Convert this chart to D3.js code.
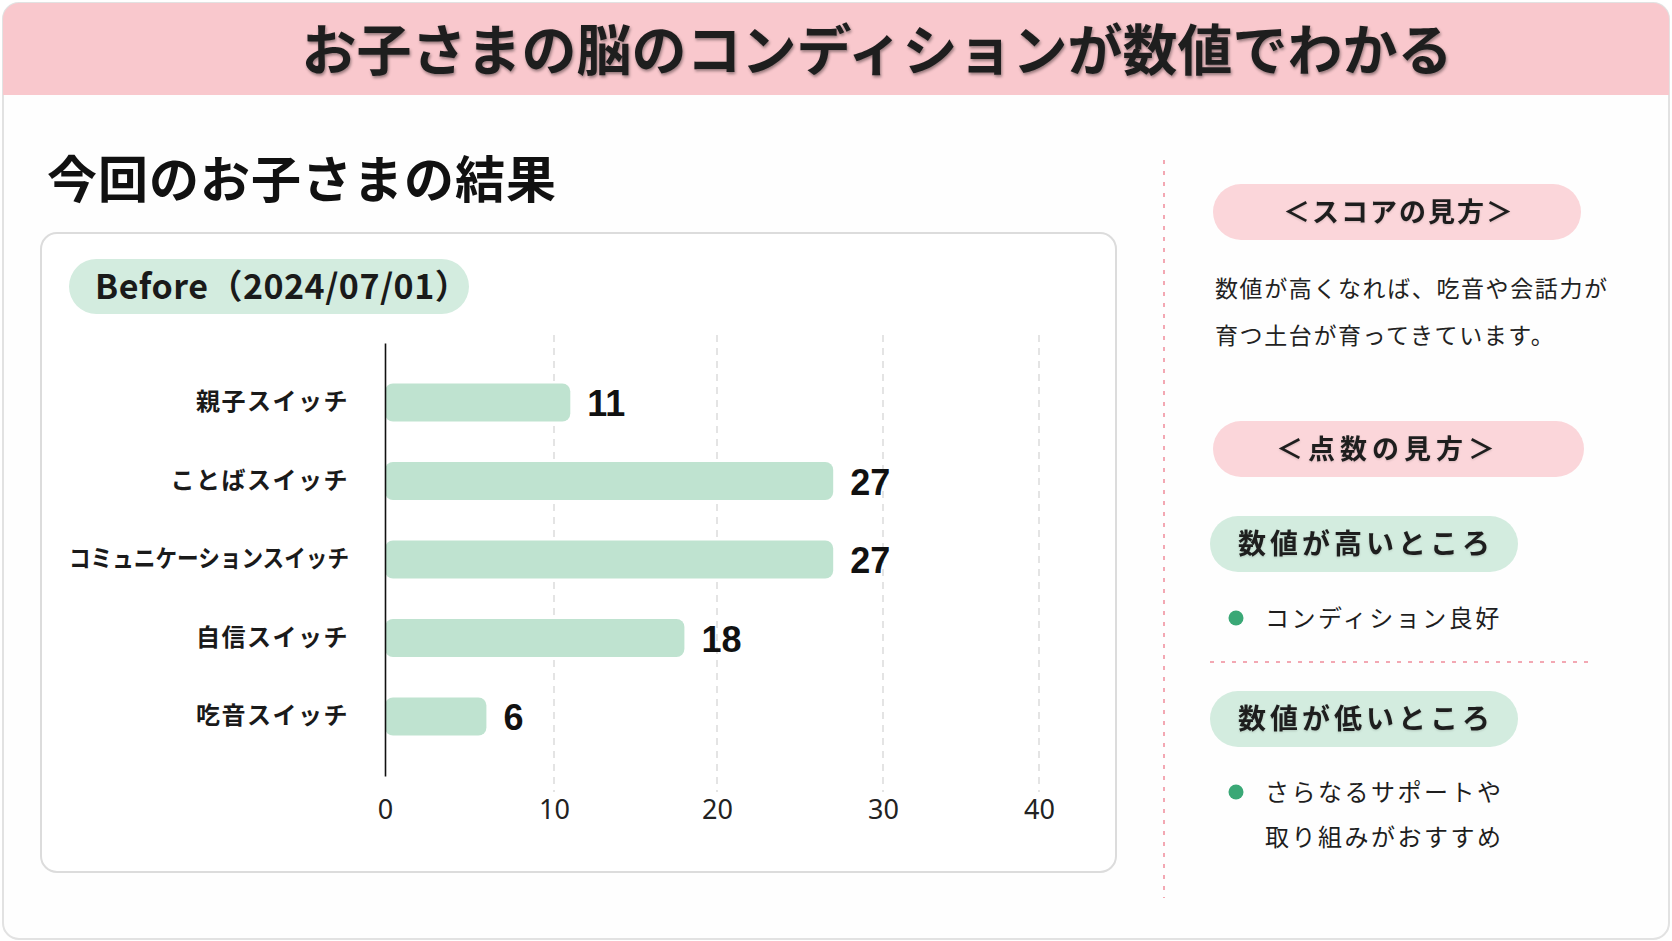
<!DOCTYPE html>
<html lang="ja">
<head>
<meta charset="utf-8">
<script src="https://cdn.jsdelivr.net/npm/d3@7"></script>
<style>
  html, body { margin: 0; padding: 0; background: #ffffff; }
  svg { display: block; }
  text { font-family: "Noto Sans CJK JP", "Noto Sans", sans-serif; }
</style>
</head>
<body>
<svg id="chart" width="1672" height="941"></svg>
<script>
// ---- data ----
const categories = ["親子スイッチ", "ことばスイッチ", "コミュニケーションスイッチ", "自信スイッチ", "吃音スイッチ"];
const values = [11, 27, 27, 18, 6];
const xTicks = [0, 10, 20, 30, 40];
const titleText = "お子さまの脳のコンディションが数値でわかる";
const sectionTitle = "今回のお子さまの結果";
const periodLabel = "Before（2024/07/01）";
const scoreHeading = "＜スコアの見方＞";
const scoreLines = ["数値が高くなれば、吃音や会話力が", "育つ土台が育ってきています。"];
const pointHeading = "＜点数の見方＞";
const highHeading = "数値が高いところ";
const highItems = ["コンディション良好"];
const lowHeading = "数値が低いところ";
const lowItems = ["さらなるサポートや", "取り組みがおすすめ"];

const svg = d3.select("#chart");
const defs = svg.append("defs");
defs.append("clipPath").attr("id", "cardClip")
  .append("rect").attr("x", 3).attr("y", 3).attr("width", 1666).attr("height", 936).attr("rx", 16);

// ---- outer card ----
svg.append("rect").attr("x", 3).attr("y", 3).attr("width", 1666).attr("height", 936).attr("rx", 16)
  .attr("fill", "#fefefe").attr("stroke", "#e2e2e2").attr("stroke-width", 2);
svg.append("g").attr("clip-path", "url(#cardClip)")
  .append("rect").attr("x", 0).attr("y", 0).attr("width", 1672).attr("height", 95).attr("fill", "#f9c8cd");

svg.append("text").attr("x", 877).attr("y", 70).attr("text-anchor", "middle")
  .attr("font-size", 55).attr("font-weight", 700).attr("fill", "#1e1e1e")
  .style("filter", "drop-shadow(1px 2px 1.5px rgba(0,0,0,0.4))")
  .text(titleText);

svg.append("text").attr("x", 47).attr("y", 198)
  .attr("font-size", 50).attr("font-weight", 700).attr("fill", "#111").attr("letter-spacing", 1)
  .text(sectionTitle);

// ---- chart panel ----
svg.append("rect").attr("x", 41).attr("y", 233).attr("width", 1075).attr("height", 639).attr("rx", 16)
  .attr("fill", "#ffffff").attr("stroke", "#dcdcdc").attr("stroke-width", 2);

svg.append("rect").attr("x", 69).attr("y", 259).attr("width", 400).attr("height", 55).attr("rx", 27.5)
  .attr("fill", "#d3ecdf");
svg.append("text").attr("x", 95).attr("y", 299)
  .attr("font-size", 34).attr("font-weight", 700).attr("fill", "#1a1a1a").attr("letter-spacing", 0.5)
  .text(periodLabel);

const x = d3.scaleLinear().domain(xTicks).range([385, 554, 717, 883, 1039]);
const y = d3.scaleBand().domain(categories).range([343, 776]).paddingInner(0.516).paddingOuter(0.516);

// gridlines
svg.append("g").selectAll("line").data(xTicks.filter(d => d > 0)).join("line")
  .attr("x1", d => x(d)).attr("x2", d => x(d)).attr("y1", 335).attr("y2", 792)
  .attr("stroke", "#d6d6d6").attr("stroke-width", 1.3).attr("stroke-dasharray", "7,6");

// bars
svg.append("g").selectAll("rect").data(values).join("rect")
  .attr("x", x(0)).attr("y", (d, i) => y(categories[i]))
  .attr("width", d => x(d) - x(0)).attr("height", y.bandwidth())
  .attr("rx", 8).attr("fill", "#bfe3d0");

// value labels
svg.append("g").selectAll("text").data(values).join("text")
  .attr("x", d => x(d) + 17).attr("y", (d, i) => y(categories[i]) + y.bandwidth() / 2)
  .attr("dy", "0.38em")
  .style("font-family", "'Liberation Sans', Arial, sans-serif")
  .attr("font-size", 36).attr("font-weight", 700).attr("fill", "#111")
  .text(d => d);

// y axis
const yAxis = svg.append("g").attr("transform", `translate(${x(0)},0)`)
  .call(d3.axisLeft(y).tickSize(0).tickPadding(36));
yAxis.select(".domain").attr("stroke", "#111").attr("stroke-width", 1.6);
yAxis.selectAll(".tick text")
  .style("font-family", "'Noto Sans CJK JP', sans-serif")
  .attr("font-size", 24).attr("font-weight", 700).attr("fill", "#1a1a1a")
  .attr("letter-spacing", 1.5)
  .each(function(d) {
    if (d.length > 10) {
      d3.select(this).attr("letter-spacing", 0).attr("textLength", 280).attr("lengthAdjust", "spacingAndGlyphs");
    }
  });

// x axis
const xAxis = svg.append("g").attr("transform", "translate(0,792)")
  .call(d3.axisBottom(x).tickValues(xTicks).tickSize(0).tickPadding(8));
xAxis.select(".domain").remove();
xAxis.selectAll(".tick text")
  .style("font-family", "'Noto Sans', sans-serif")
  .attr("font-size", 27).attr("fill", "#222");

// ---- right column ----
svg.append("line").attr("x1", 1164).attr("x2", 1164).attr("y1", 160).attr("y2", 898)
  .attr("stroke", "#f3a8b3").attr("stroke-width", 2).attr("stroke-dasharray", "4,7");

function pill(x0, y0, w, h, fill, label, cx, size, spacing) {
  svg.append("rect").attr("x", x0).attr("y", y0).attr("width", w).attr("height", h).attr("rx", h / 2)
    .attr("fill", fill);
  svg.append("text").attr("x", cx).attr("y", y0 + h / 2).attr("dy", "0.36em").attr("text-anchor", "middle")
    .attr("font-size", size).attr("font-weight", 700).attr("fill", "#1e1e1e").attr("letter-spacing", spacing)
    .style("filter", "drop-shadow(0px 1px 1px rgba(0,0,0,0.15))")
    .text(label);
}

pill(1213, 184, 368, 56, "#fbd6da", scoreHeading, 1399, 27, 2);

svg.append("g").selectAll("text").data(scoreLines).join("text")
  .attr("x", 1215).attr("y", (d, i) => 297 + i * 47)
  .attr("font-size", 23).attr("fill", "#222").attr("letter-spacing", 1.6)
  .text(d => d);

pill(1213, 421, 371, 56, "#fbd6da", pointHeading, 1388, 27, 5);

pill(1210, 516, 308, 56, "#d3ecdf", highHeading, 1366, 28, 4);
function bullets(items, yStart) {
  svg.append("circle").attr("cx", 1236).attr("cy", yStart).attr("r", 7.5).attr("fill", "#3aa876");
  svg.append("g").selectAll("text").data(items).join("text")
    .attr("x", 1265).attr("y", (d, i) => yStart + i * 45).attr("dy", "0.36em")
    .attr("font-size", 24).attr("fill", "#1e1e1e").attr("letter-spacing", 2.5)
    .text(d => d);
}
bullets(highItems, 618);

svg.append("line").attr("x1", 1210).attr("x2", 1590).attr("y1", 662).attr("y2", 662)
  .attr("stroke", "#f3a8b3").attr("stroke-width", 2).attr("stroke-dasharray", "4,7");

pill(1210, 691, 308, 56, "#d3ecdf", lowHeading, 1366, 28, 4);
bullets(lowItems, 792);
</script>
</body>
</html>
